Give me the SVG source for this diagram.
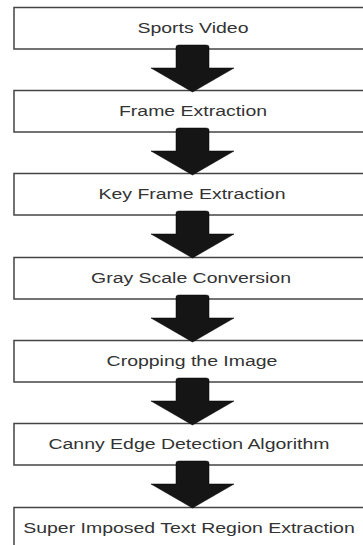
<svg xmlns="http://www.w3.org/2000/svg" width="363" height="545" viewBox="0 0 363 545">
<defs>
<style>
.box{fill:#fff;stroke:#444;stroke-width:1.5}
.lbl{font-family:"Liberation Sans",Arial,sans-serif;font-size:14px;fill:#333;text-anchor:middle}
.arr{fill:#151515;stroke:#000;stroke-width:0.5}
</style>
<path id="ar" d="M176,-2 Q176,-4 179,-4 L206,-4 Q209,-4 209,-2 L209,19 L234,19 L192.5,43 L151,19 L176,19 Z"/>
</defs>
<rect width="363" height="545" fill="#fff"/>
<g id="n1"><rect class="box" x="14" y="7.5" width="360" height="41.5"/><text class="lbl" transform="translate(193,33) scale(1.39,1)">Sports Video</text></g>
<g id="n2"><rect class="box" x="14" y="90.5" width="360" height="41.5"/><text class="lbl" transform="translate(193,116) scale(1.39,1)">Frame Extraction</text></g>
<g id="n3"><rect class="box" x="14" y="173.5" width="360" height="41.5"/><text class="lbl" transform="translate(192,199) scale(1.39,1)">Key Frame Extraction</text></g>
<g id="n4"><rect class="box" x="14" y="257.5" width="360" height="41.5"/><text class="lbl" transform="translate(191,283) scale(1.39,1)">Gray Scale Conversion</text></g>
<g id="n5"><rect class="box" x="14" y="340.5" width="360" height="41.5"/><text class="lbl" transform="translate(192,366) scale(1.39,1)">Cropping the Image</text></g>
<g id="n6"><rect class="box" x="14" y="423.5" width="360" height="41.5"/><text class="lbl" transform="translate(189,449) scale(1.39,1)">Canny Edge Detection Algorithm</text></g>
<g id="n7"><rect class="box" x="14" y="507.5" width="360" height="60"/><text class="lbl" transform="translate(189,533) scale(1.39,1)">Super Imposed Text Region Extraction</text></g>
<g id="connectors">
<use href="#ar" class="arr" y="49"/>
<use href="#ar" class="arr" y="132"/>
<use href="#ar" class="arr" y="215"/>
<use href="#ar" class="arr" y="299"/>
<use href="#ar" class="arr" y="382"/>
<use href="#ar" class="arr" y="465"/>
</g>
</svg>
